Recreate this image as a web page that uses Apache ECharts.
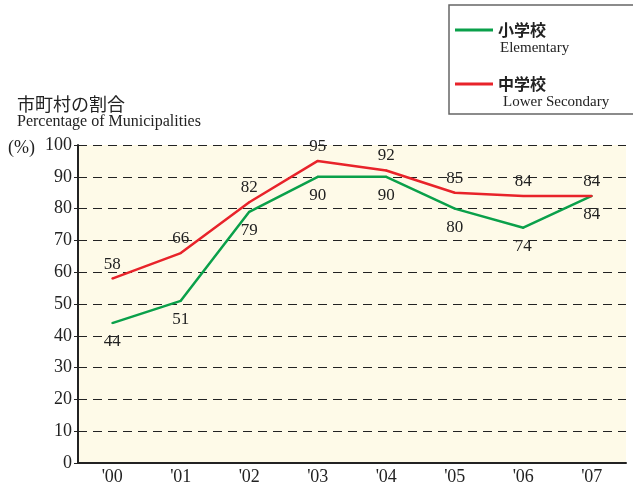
<!DOCTYPE html>
<html lang="ja">
<head>
<meta charset="UTF-8">
<title>市町村の割合</title>
<script src="https://cdn.jsdelivr.net/npm/echarts@6/dist/echarts.min.js"></script>
<style>
html, body { margin: 0; padding: 0; background: #fff; }
#chart { width: 633px; height: 486px; }
</style>
</head>
<body>
<div id="chart"></div>
<script>
// 年度
var years = ["'00", "'01", "'02", "'03", "'04", "'05", "'06", "'07"];
// 小学校 Elementary
var elementary = [44, 51, 79, 90, 90, 80, 74, 84];
// 中学校 Lower Secondary
var lowerSecondary = [58, 66, 82, 95, 92, 85, 84, 84];

var serif = '"Liberation Serif", "DejaVu Serif", "Noto Sans CJK JP", serif';
var jp = '"Noto Sans CJK JP", sans-serif';

var chart = echarts.init(document.getElementById('chart'));

var option = {
  animation: false,
  backgroundColor: '#fff',
  title: [
    {
      text: '市町村の割合',
      subtext: 'Percentage of Municipalities',
      left: 12, top: 90,
      itemGap: 1,
      textStyle: { fontFamily: jp, fontSize: 18, fontWeight: 'normal', color: '#222' },
      subtextStyle: { fontFamily: serif, fontSize: 16, color: '#222' }
    },
    {
      text: '(%)',
      left: 3, top: 134,
      textStyle: { fontFamily: serif, fontSize: 18, fontWeight: 'normal', color: '#222' }
    },
    // 凡例の英語表記
    {
      text: 'Elementary',
      left: 495, top: 36,
      textStyle: { fontFamily: serif, fontSize: 15, fontWeight: 'normal', color: '#222' }
    },
    {
      text: 'Lower Secondary',
      left: 498, top: 90,
      textStyle: { fontFamily: serif, fontSize: 15, fontWeight: 'normal', color: '#222' }
    }
  ],
  legend: {
    orient: 'vertical',
    left: 449, top: 5,
    padding: [15, 95, 20, 6],
    borderColor: '#666',
    borderWidth: 1.5,
    itemWidth: 38,
    itemHeight: 3,
    itemGap: 34,
    icon: 'rect',
    align: 'left',
    data: ['小学校', '中学校'],
    itemStyle: { opacity: 1 },
    textStyle: {
      fontFamily: jp, fontSize: 16, fontWeight: 'bold', color: '#222',
      lineHeight: 20
    }
  },
  grid: {
    left: 78, right: 7, top: 145, bottom: 23,
    show: true,
    backgroundColor: '#fefae8',
    borderWidth: 0
  },
  xAxis: {
    type: 'category',
    data: years,
    boundaryGap: true,
    axisLine: { lineStyle: { color: '#222', width: 2 } },
    axisTick: { show: false },
    axisLabel: { fontFamily: serif, fontSize: 18, color: '#222', margin: 5 }
  },
  yAxis: {
    type: 'value',
    min: 0, max: 100, interval: 10,
    axisLine: { show: true, lineStyle: { color: '#222', width: 2 } },
    axisTick: { show: true, length: 4, lineStyle: { color: '#222' } },
    axisLabel: { fontFamily: serif, fontSize: 18, color: '#222', margin: 6 },
    splitLine: { lineStyle: { color: '#222', type: [9, 6], width: 1 } }
  },
  series: [
    {
      name: '小学校',
      type: 'line',
      data: elementary,
      symbol: 'circle',
      symbolSize: 2,
      showSymbol: true,
      itemStyle: { color: '#0aa04a' },
      lineStyle: { color: '#0aa04a', width: 2.5 },
      label: {
        show: true, position: 'bottom', distance: 9,
        fontFamily: serif, fontSize: 17, color: '#222'
      },
      z: 3
    },
    {
      name: '中学校',
      type: 'line',
      data: lowerSecondary,
      symbol: 'circle',
      symbolSize: 2,
      showSymbol: true,
      itemStyle: { color: '#e8232a' },
      lineStyle: { color: '#e8232a', width: 2.5 },
      label: {
        show: true, position: 'top', distance: 5,
        fontFamily: serif, fontSize: 17, color: '#222'
      },
      z: 4
    }
  ]
};

chart.setOption(option);
</script>
</body>
</html>
